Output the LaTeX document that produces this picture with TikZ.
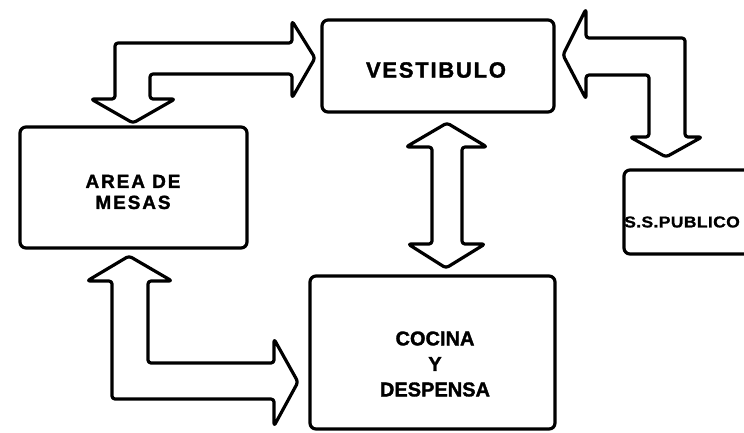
\documentclass[tikz,border=0pt]{standalone}
\usepackage{fontspec}
\setmainfont{Liberation Sans}
\newfontfamily\vesfont[LetterSpace=8,FakeBold=1.5]{Liberation Sans Bold}
\newfontfamily\areafont[LetterSpace=10,FakeBold=1.5]{Liberation Sans Bold}
\newfontfamily\cocfont[FakeBold=1.5]{Liberation Sans Bold}
\newfontfamily\ssfont[LetterSpace=2,FakeBold=1]{Liberation Sans Bold}
\tikzset{
  box/.style={draw=black, line width=3.2pt, rounded corners=6pt, fill=white, inner sep=0pt},
  lbl/.style={inner sep=0pt, align=center, text=black},
  barrow/.style={draw=black, line width=3.2pt, fill=white, rounded corners=3pt, line join=round}
}
\begin{document}
\begin{tikzpicture}[x=1pt,y=-1pt]
\useasboundingbox (0,0) rectangle (744,432);
\clip (0,0) rectangle (744,432);
\fill[white] (0,0) rectangle (744,432);
% boxes
\node[box, minimum width=232pt, minimum height=92pt] (ves) at (438,66) {};
\node[box, minimum width=227pt, minimum height=121pt] (area) at (133.5,187.5) {};
\node[box, minimum width=156pt, minimum height=84pt] (ss) at (702,212) {};
\node[box, minimum width=245pt, minimum height=153pt] (coc) at (432.5,352.5) {};
% labels
\node[lbl, font=\vesfont\fontsize{22}{26}\selectfont] (vestxt) at (436,70) {VESTIBULO};
\node[lbl, font=\areafont\fontsize{19}{21}\selectfont] (areatxt) at (133,192) {AREA DE\\MESAS};
\node[lbl, font=\ssfont\fontsize{15}{18}\selectfont, anchor=west] (sstxt) at (624,222) {\scalebox{1.17}[1.05]{S.S.PUBLICO}};
\node[lbl, font=\cocfont\fontsize{20}{25.5}\selectfont] (coctxt) at (435,364) {COCINA\\Y\\DESPENSA};
% block arrows
\draw[barrow] (315,58) -- (292,98) -- (292,74) -- (150,74) -- (150,99) -- (175,99) -- (133,123)
  -- (91,99) -- (115,99) -- (115,43) -- (292,43) -- (292,21) -- cycle;
\draw[barrow] (563,55) -- (586,9) -- (586,38) -- (685,38) -- (685,137) -- (702,137) -- (666,157)
  -- (630,137) -- (649,137) -- (649,75) -- (586,75) -- (586,99) -- cycle;
\draw[barrow] (447,123) -- (487,147) -- (462,147) -- (462,244) -- (485,244) -- (446,268)
  -- (408,244) -- (432,244) -- (432,147) -- (406,147) -- cycle;
\draw[barrow] (129,256) -- (172,281) -- (148,281) -- (148,363) -- (274,363) -- (274,339) -- (298,382)
  -- (274,426) -- (274,399) -- (112,399) -- (112,281) -- (87,281) -- cycle;
\end{tikzpicture}
\end{document}
